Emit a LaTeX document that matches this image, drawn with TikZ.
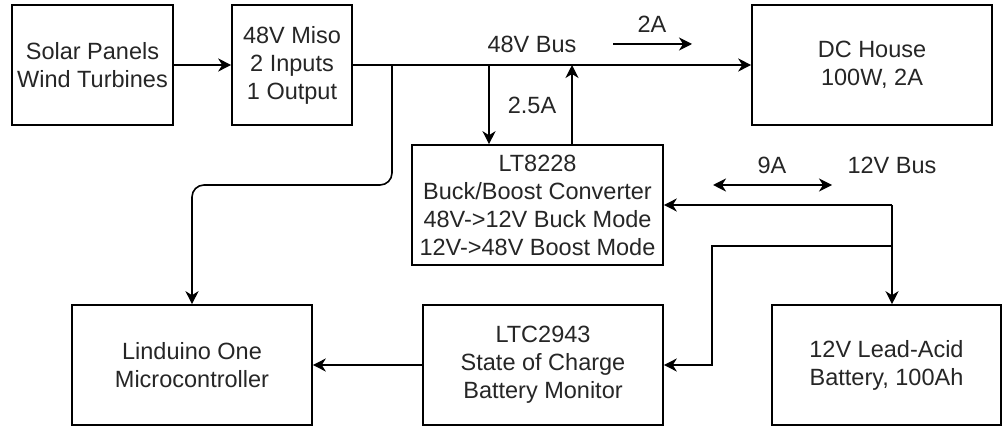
\documentclass[tikz,border=0pt]{standalone}
\usepackage{fontspec}
\setmainfont{Liberation Sans}
\usetikzlibrary{arrows.meta}
\begin{document}
\begin{tikzpicture}[x=1pt,y=-1pt,
  box/.style={draw=black, line width=1.6pt, minimum height=120pt, inner sep=0pt,
    align=center, font=\fontsize{23.5}{28}\selectfont, text=black!85},
  lbl/.style={inner sep=0pt, anchor=base, font=\fontsize{23.5}{28}\selectfont, text=black!85},
  arr/.style={-{Stealth[length=13pt,width=13pt,inset=4pt]}, line width=1.6pt},
  arrboth/.style={{Stealth[length=13pt,width=13pt,inset=4pt]}-{Stealth[length=13pt,width=13pt,inset=4pt]}, line width=1.6pt},
  wire/.style={line width=1.6pt}]
\fill[white] (0,0) rectangle (1003,427);
\useasboundingbox (0,0) rectangle (1003,427);

\node[box, minimum width=161pt] (solar) at (92.5,65) {Solar Panels\\Wind Turbines};
\node[box, minimum width=120pt] (miso) at (292,65) {48V Miso\\2 Inputs\\1 Output};
\node[box, minimum width=240pt] (dc) at (872,65) {DC House\\100W, 2A};
\node[box, minimum width=251pt] (lt) at (537.5,205) {LT8228\\Buck/Boost Converter\\48V->12V Buck Mode\\12V->48V Boost Mode};
\node[box, minimum width=240pt] (lind) at (192,365) {Linduino One\\Microcontroller};
\node[box, minimum width=240pt] (ltc) at (543,365) {LTC2943\\State of Charge\\Battery Monitor};
\node[box, minimum width=229pt] (bat) at (886.5,365) {12V Lead-Acid\\Battery, 100Ah};

\node[lbl] (bus48) at (532,53) {48V Bus};
\node[lbl] (l25) at (532,114) {2.5A};
\node[lbl] (l2) at (652,33) {2A};
\node[lbl] (l9) at (772,174) {9A};
\node[lbl] (bus12) at (892,174) {12V Bus};

\draw[arr] (solar) -- (miso);
\draw[arr] (miso) -- (dc);

\coordinate (j1) at (392,65);
\draw[arr, rounded corners=12pt] (j1) -- (392,185) -- (192,185) -- (lind.north);

\coordinate (j2) at (489,65);
\draw[arr] (j2) -- (j2 |- lt.north);
\coordinate (j3) at (572,65);
\draw[arr] (j3 |- lt.north) -- (j3);

\coordinate (a1) at (613,44);
\coordinate (a2) at (692,44);
\draw[arr] (a1) -- (a2);

\coordinate (b1) at (713,185);
\coordinate (b2) at (832,185);
\draw[arrboth] (b1) -- (b2);

\coordinate (k1) at (892,205);
\draw[arr] (k1) -- (lt.east);
\draw[arr] (k1) -- (k1 |- bat.north);
\coordinate (k2) at (892,246);
\coordinate (k3) at (712,246);
\draw[arr] (k2) -- (k3) |- (ltc.east);

\draw[arr] (ltc) -- (lind);
\end{tikzpicture}
\end{document}
